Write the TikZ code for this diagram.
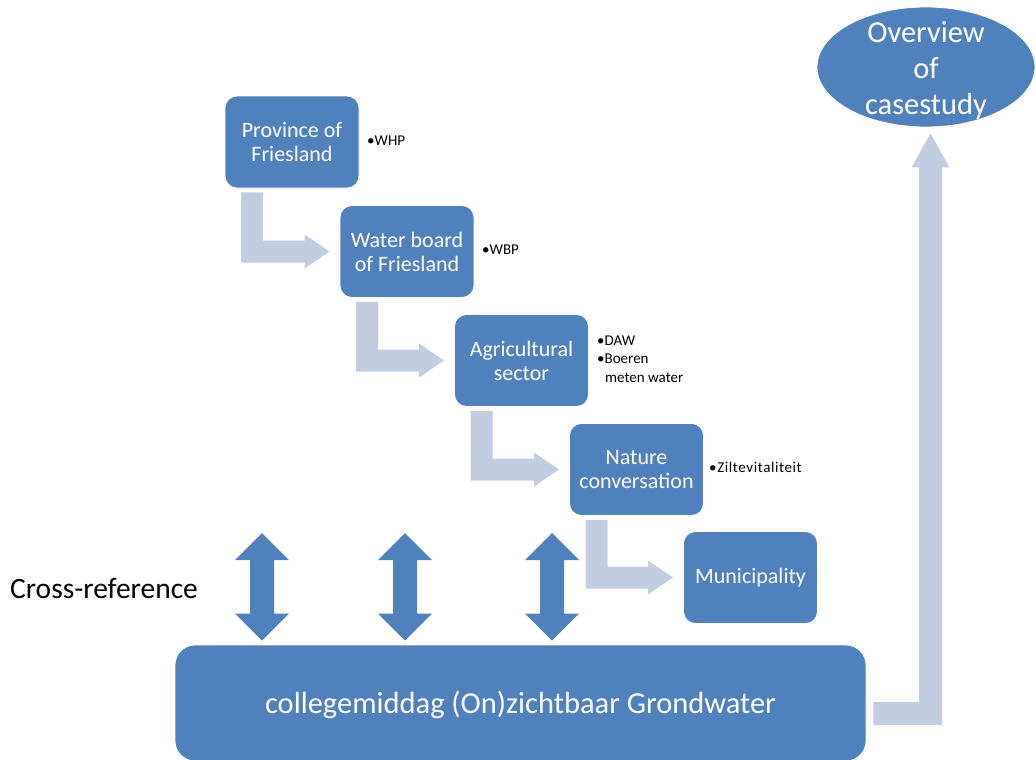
\documentclass[tikz,border=0pt]{standalone}
\usepackage{fontspec}
\setmainfont{Carlito}
\usetikzlibrary{calc,shapes.geometric}
\definecolor{dblue}{HTML}{4F81BD}
\definecolor{lblue}{HTML}{C3CDE2}
% bent block arrow from box #1 to box #2
\newcommand\bentarr[2]{%
  \fill[lblue] let \p1=($(#1.south west)+(16.5,4)$), \p2=($(#2.west)+(-10,0)$) in
    (\x1,\y1) -- ({\x1+22pt},\y1) -- ({\x1+22pt},{\y2+11pt}) -- ({\x2-25pt},{\y2+11pt})
    -- ({\x2-25pt},{\y2+17pt}) -- (\x2,\y2) -- ({\x2-25pt},{\y2-17pt}) -- ({\x2-25pt},{\y2-11pt})
    -- (\x1,{\y2-11pt}) -- cycle;}
% vertical double block arrow between #1 (top tip) and #2 (bottom tip)
\newcommand\dblarr[2]{%
  \fill[dblue] let \p1=(#1), \p2=(#2) in
    (\x1,\y1) -- ({\x1+27pt},{\y1-27pt}) -- ({\x1+12pt},{\y1-27pt}) -- ({\x1+12pt},{\y2+27pt})
    -- ({\x1+27pt},{\y2+27pt}) -- (\x1,\y2) -- ({\x1-27pt},{\y2+27pt}) -- ({\x1-12pt},{\y2+27pt})
    -- ({\x1-12pt},{\y1-27pt}) -- ({\x1-27pt},{\y1-27pt}) -- cycle;}
\begin{document}
\begin{tikzpicture}[x=1pt,y=-1pt,
  stepbox/.style={fill=dblue, draw=white, line width=0.8pt, rounded corners=12pt,
    minimum width=134pt, minimum height=92pt, text=white, align=center,
    font=\fontsize{22}{24}\selectfont, inner sep=0pt},
  note/.style={anchor=west, font=\fontsize{15}{18}\selectfont, inner sep=0pt}]
\useasboundingbox (0,0) rectangle (1036,760);

% boxes
\node[stepbox] (prov) at (292,142) {Province of\\Friesland};
\node[stepbox] (water) at (407,251.5) {Water board\\of Friesland};
\node[stepbox] (agri) at (521.5,360.5) {Agricultural\\sector};
\node[stepbox] (nature) at (636.5,469.5) {Nature\\conversation};
\node[stepbox] (muni) at (750.5,577.5) {Municipality};

\node[fill=dblue, draw=white, line width=0.8pt, rounded corners=20pt, minimum width=691pt,
  minimum height=116pt, inner sep=0pt] (big) at (520.5,703) {};
\node[text=white, inner sep=0pt, font=\fontsize{30.5}{34}\selectfont]
  (bigtext) at ($(big.center)+(0,2)$) {collegemiddag (On)zichtbaar Grondwater};

\node[ellipse, fill=dblue, draw=white, line width=0.8pt, minimum width=218pt, minimum height=120pt,
  inner sep=0pt] (ov) at (926,67) {};
\node[text=white, align=center, inner sep=0pt, font=\fontsize{30.5}{36}\selectfont]
  (ovtext) at ($(ov.center)+(0,3)$) {Overview\\of\\casestudy};

% notes
\node[note] (n1) at (367,141) {•WHP};
\node[note] (n2) at (482,250) {•WBP};
\node[note] (n3) at (597,341) {•DAW};
\node[note] (n4) at (597,359) {•Boeren};
\node[note] (n5) at (605,378) {meten water};
\node[note, font=\fontsize{15}{18}\selectfont\addfontfeatures{LetterSpace=4}] (n6) at (709,467) {•Ziltevitaliteit};

\node[anchor=west, inner sep=0pt, font=\fontsize{29.5}{32}\selectfont] (cross) at (10,588) {Cross-reference};

% bent arrows
\bentarr{prov}{water}
\bentarr{water}{agri}
\bentarr{agri}{nature}
\bentarr{nature}{muni}

% final arrow to overview
\fill[lblue] let \p1=($(big.east)+(7,10.5)$), \p2=($(ov.south)+(4.5,6)$) in
  (\x1,{\y1+11.5pt}) -- ({\x2-11.5pt},{\y1+11.5pt}) -- ({\x2-11.5pt},{\y2-34pt})
  -- ({\x2-19pt},{\y2-34pt}) -- (\x2,\y2) -- ({\x2+19pt},{\y2-34pt}) -- ({\x2+11.5pt},{\y2-34pt})
  -- ({\x2+11.5pt},{\y1-11.5pt}) -- (\x1,{\y1-11.5pt}) -- cycle;

% cross-reference double arrows
\coordinate (cr1) at (262,533);
\coordinate (cr2) at (405,533);
\coordinate (cr3) at (552,533);
\dblarr{cr1}{$(big.north -| cr1)+(0,-4)$}
\dblarr{cr2}{$(big.north -| cr2)+(0,-4)$}
\dblarr{cr3}{$(big.north -| cr3)+(0,-4)$}
\end{tikzpicture}
\end{document}
